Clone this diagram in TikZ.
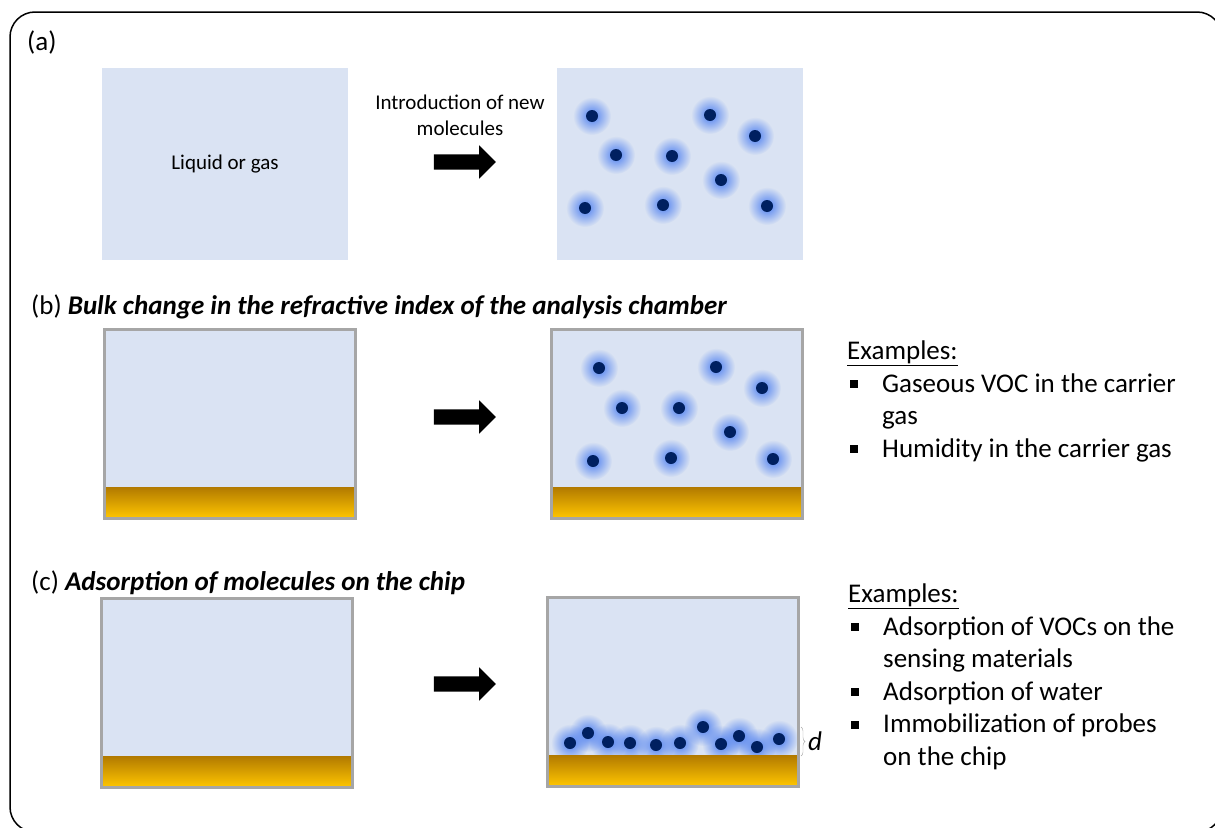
\documentclass[tikz,border=0pt]{standalone}
\usepackage{fontspec}
\setmainfont{Carlito}
\usetikzlibrary{shapes.arrows,fadings,decorations.pathreplacing,positioning}

\definecolor{fluid}{RGB}{218,227,243}
\definecolor{wallgray}{RGB}{166,166,166}
\definecolor{golddark}{RGB}{178,122,0}
\definecolor{goldlight}{RGB}{255,198,0}
\definecolor{navy}{RGB}{0,32,96}
\definecolor{glowblue}{RGB}{75,125,240}

\tikzfading[name=glowfade, inner color=transparent!0, outer color=transparent!100]

\newcommand{\sqbullet}{\hspace*{3pt}\rule[4pt]{8pt}{8pt}\hspace*{24pt}}

\begin{document}
\begin{tikzpicture}[
    x=1pt, y=-1pt,
    every node/.style={inner sep=0pt},
    heading/.style={font=\fontsize{27}{33}\selectfont},
    small/.style={font=\fontsize{21}{26}\selectfont, align=center},
    bath/.style={fill=fluid, minimum width=246pt, minimum height=192pt},
    chamber/.style={fill=fluid, minimum width=250pt, minimum height=188pt},
    wall/.style={draw=wallgray, line width=3pt},
    chip/.style={top color=golddark, bottom color=goldlight},
    blockarrow/.style={single arrow, fill=black, minimum height=62pt, inner sep=7.5pt,
        single arrow head extend=9pt, single arrow head indent=0pt},
    glow/.style={glowblue, path fading=glowfade},
    dot/.style={fill=navy},
    exlist/.style={font=\fontsize{27}{32.5}\selectfont, align=left}
]
\useasboundingbox (0,0) rectangle (1215,827);
\clip (0,0) rectangle (1215,827);

% frame
\draw[line width=1.5pt, rounded corners=25pt] (10,12) rectangle (1222,832);

% (a) introduction of molecules
\node[heading, anchor=west] (hdA) at (27,42) {(a)};
\node[bath, small] (boxLiquid) at (225,164) {Liquid or gas};
\node[bath] (boxMol) at (680,164) {};
\node[small] (txtIntro) at (460,115) {Introduction of new\\molecules};
\node[blockarrow] (arrIntro) at (461,162) {};
\foreach \mx/\my in {592/116,710/115,755/136,616/155,672/156,721/180,585/208,663/205,767/206}
    \fill[glow] (\mx,\my) circle (19pt);
\foreach \mx/\my in {592/116,710/115,755/136,616/155,672/156,721/180,585/208,663/205,767/206}
    \fill[dot] (\mx,\my) circle (6pt);

% (b) bulk change
\node[heading, anchor=west] (hdB) at (31,307) {(b) \textbf{\textit{Bulk change in the refractive index of the analysis chamber}}};
\node[chamber] (chBulkEmpty) at (230,424) {};
\node[chamber] (chBulkFull) at (677,424) {};
\foreach \mx/\my in {599/368,716/367,762/388,622/408,679/408,730/432,593/461,671/458,773/459}
    \fill[glow] (\mx,\my) circle (19pt);
\foreach \mx/\my in {599/368,716/367,762/388,622/408,679/408,730/432,593/461,671/458,773/459}
    \fill[dot] (\mx,\my) circle (6pt);
\foreach \ch in {chBulkEmpty,chBulkFull} {
    \shade[chip] (\ch.south west) rectangle ([yshift=31pt]\ch.south east);
    \draw[wall] (\ch.south west) rectangle (\ch.north east);
}
\node[blockarrow] (arrBulk) at (461,417) {};
\node[exlist, anchor=base west] (exBulk) at (847,457) {\underline{Examples:}\\
    \sqbullet Gaseous VOC in the carrier\\
    \hspace*{35pt}gas\\
    \sqbullet Humidity in the carrier gas};

% (c) adsorption on the chip
\node[heading, anchor=west] (hdC) at (31,583) {(c) \textbf{\textit{Adsorption of molecules on the chip}}};
\node[chamber] (chAdsEmpty) at (227,693) {};
\node[chamber] (chAdsFull) at (673,692) {};
\foreach \mx/\my in {570/743,588/733,608/742,630/743,656/745,680/743,703/727,721/744,739/736,757/747,779/739}
    \fill[glow] (\mx,\my) circle (19pt);
\foreach \mx/\my in {570/743,588/733,608/742,630/743,656/745,680/743,703/727,721/744,739/736,757/747,779/739}
    \fill[dot] (\mx,\my) circle (6pt);
\foreach \ch in {chAdsEmpty,chAdsFull} {
    \shade[chip] (\ch.south west) rectangle ([yshift=31pt]\ch.south east);
    \draw[wall] (\ch.south west) rectangle (\ch.north east);
}
\node[blockarrow] (arrAds) at (461,684) {};
\coordinate (layTop) at (801,727);
\coordinate (layBot) at (801,756);
\draw[wallgray, decorate, decoration={brace, amplitude=4pt}] (layTop) -- (layBot)
    node[heading, text=black, midway, right=7pt] (dLab) {\textit{d}};
\node[exlist, anchor=base west] (exAds) at (848,765) {\underline{Examples:}\\
    \sqbullet Adsorption of VOCs on the\\
    \hspace*{35pt}sensing materials\\
    \sqbullet Adsorption of water\\
    \sqbullet Immobilization of probes\\
    \hspace*{35pt}on the chip};
\end{tikzpicture}
\end{document}
